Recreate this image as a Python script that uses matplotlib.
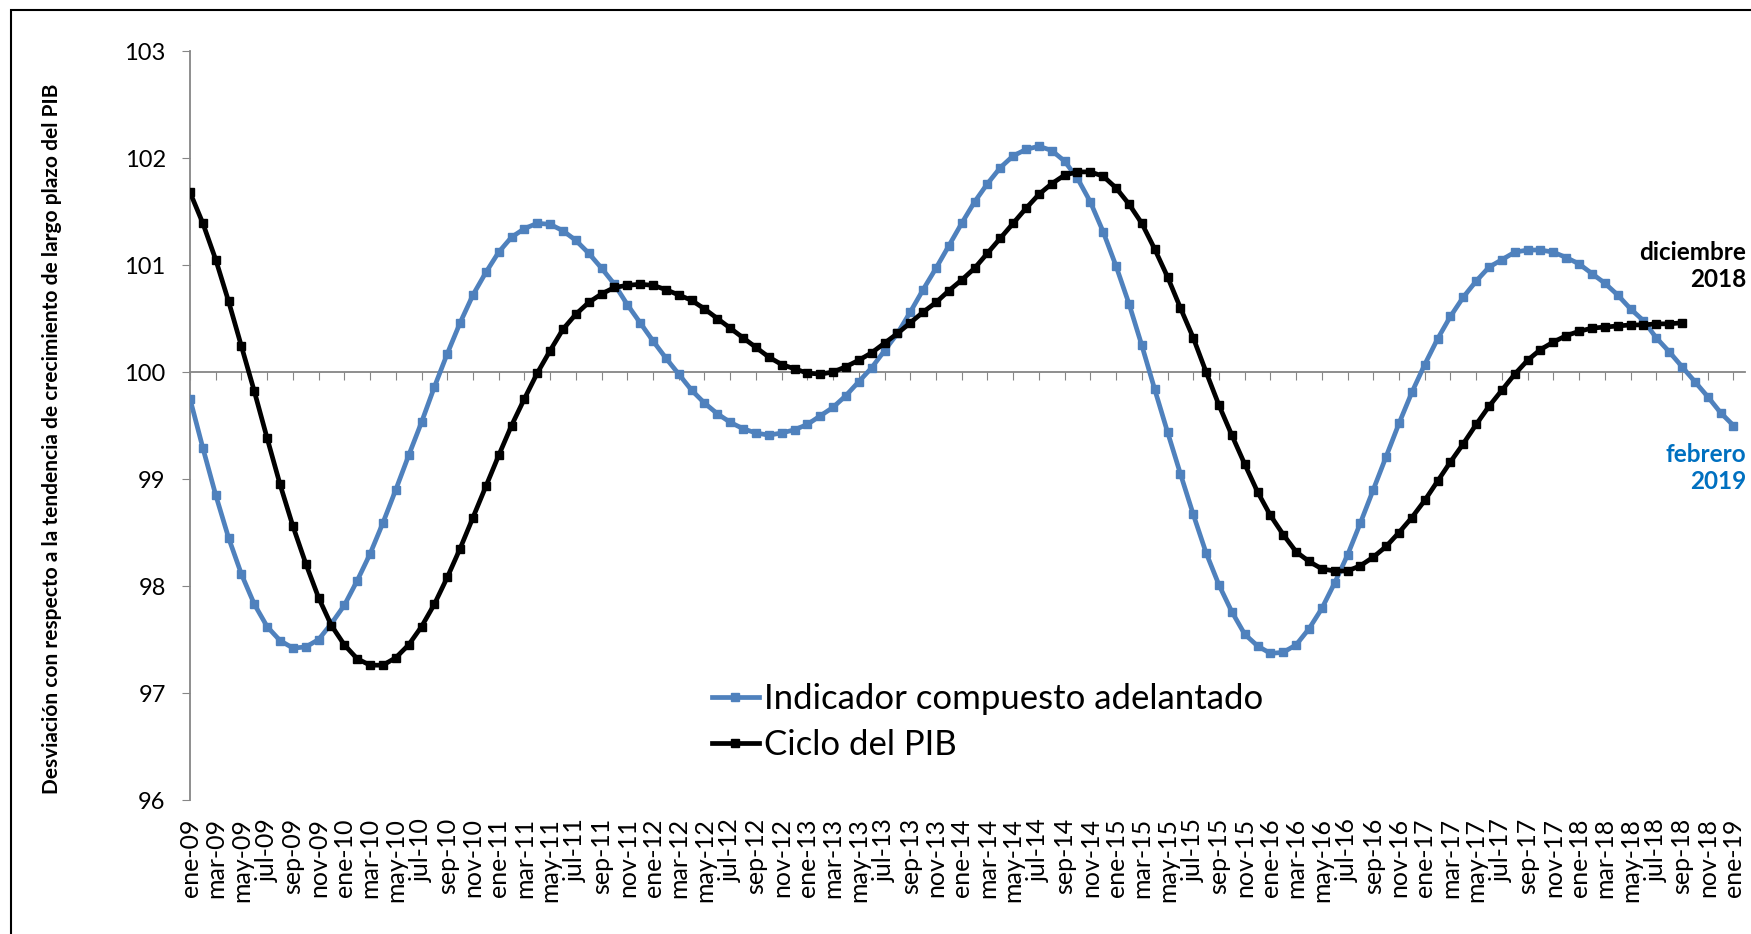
import matplotlib.pyplot as plt
from matplotlib.patches import Rectangle
from matplotlib import font_manager

# monthly series, ene-09 onwards
meses = ["ene", "feb", "mar", "abr", "may", "jun", "jul", "ago", "sep", "oct", "nov", "dic"]
fechas = [f"{m}-{a:02d}" for a in range(9, 20) for m in meses][:121]

indicador = [
    99.75, 99.29, 98.85, 98.45, 98.11, 97.83, 97.62, 97.49, 97.42, 97.43, 97.50, 97.65,
    97.82, 98.05, 98.30, 98.59, 98.90, 99.22, 99.53, 99.86, 100.17, 100.46, 100.72, 100.93,
    101.12, 101.26, 101.34, 101.39, 101.38, 101.32, 101.23, 101.11, 100.97, 100.82, 100.63, 100.46,
    100.29, 100.13, 99.98, 99.83, 99.71, 99.61, 99.53, 99.47, 99.43, 99.41, 99.43, 99.46,
    99.51, 99.59, 99.67, 99.78, 99.91, 100.04, 100.20, 100.36, 100.56, 100.77, 100.97, 101.18,
    101.39, 101.59, 101.76, 101.91, 102.02, 102.08, 102.11, 102.07, 101.97, 101.81, 101.59, 101.31,
    100.99, 100.64, 100.25, 99.84, 99.44, 99.05, 98.67, 98.31, 98.01, 97.76, 97.55, 97.44,
    97.37, 97.38, 97.45, 97.60, 97.79, 98.03, 98.29, 98.59, 98.90, 99.21, 99.52, 99.81,
    100.07, 100.31, 100.52, 100.70, 100.85, 100.98, 101.05, 101.12, 101.14, 101.14, 101.12, 101.07,
    101.01, 100.92, 100.83, 100.72, 100.59, 100.48, 100.32, 100.19, 100.05, 99.91, 99.77, 99.62,
    99.50,
]

ciclo_pib = [
    101.68, 101.39, 101.05, 100.66, 100.24, 99.82, 99.38, 98.95, 98.56, 98.21, 97.89, 97.63,
    97.45, 97.32, 97.26, 97.26, 97.33, 97.45, 97.62, 97.83, 98.08, 98.35, 98.64, 98.93,
    99.22, 99.50, 99.75, 99.99, 100.20, 100.40, 100.54, 100.65, 100.73, 100.79, 100.81, 100.82,
    100.81, 100.77, 100.72, 100.67, 100.59, 100.50, 100.41, 100.32, 100.23, 100.14, 100.07, 100.03,
    99.99, 99.98, 100.00, 100.05, 100.11, 100.18, 100.27, 100.36, 100.46, 100.56, 100.65, 100.76,
    100.86, 100.97, 101.11, 101.25, 101.39, 101.53, 101.66, 101.76, 101.84, 101.87, 101.87, 101.83,
    101.72, 101.57, 101.39, 101.15, 100.89, 100.60, 100.32, 100.00, 99.69, 99.41, 99.14, 98.88,
    98.66, 98.48, 98.32, 98.23, 98.16, 98.14, 98.14, 98.19, 98.27, 98.37, 98.50, 98.64,
    98.80, 98.98, 99.16, 99.33, 99.51, 99.68, 99.83, 99.98, 100.11, 100.21, 100.28, 100.34,
    100.38, 100.41, 100.42, 100.43, 100.44, 100.44, 100.45, 100.45, 100.46,
]

plt.rcParams["font.family"] = ["Lato", "DejaVu Sans"]
GRIS = "#868686"

# narrow bold face for the axis title, if there is one
nombres = {f.name for f in font_manager.fontManager.ttflist}
fam_titulo = ["Liberation Sans Narrow", "DejaVu Sans"] if "Liberation Sans Narrow" in nombres else ["Lato", "DejaVu Sans"]

fig = plt.figure(figsize=(17.51, 9.34), dpi=100)
fig.patches.append(Rectangle((11 / 1751, -0.1), 1.1, 1.1 - 10 / 934, transform=fig.transFigure,
                             fill=False, edgecolor="black", linewidth=1.5))

ax = fig.add_axes([190 / 1751, 134 / 934, 1555 / 1751, 749 / 934])
x_blue = range(len(indicador))
x_black = range(len(ciclo_pib))
ax.plot(x_blue, indicador, color="#4F81BD", lw=3.4, marker="s", ms=6,
        label="Indicador compuesto adelantado", zorder=3)
ax.plot(x_black, ciclo_pib, color="black", lw=3.4, marker="s", ms=6,
        label="Ciclo del PIB", zorder=4)

ax.set_xlim(0, 120.9)
ax.set_ylim(96, 103)
ax.set_yticks(range(96, 104))
ax.tick_params(axis="y", direction="out", length=6, color=GRIS, labelsize=17, pad=11.5)

for s in ["top", "right"]:
    ax.spines[s].set_visible(False)
ax.spines["left"].set_color(GRIS)
ax.spines["left"].set_linewidth(1.3)
# category axis crosses at 100
ax.spines["bottom"].set_position(("data", 100))
ax.spines["bottom"].set_color(GRIS)
ax.spines["bottom"].set_linewidth(1.3)
ax.spines["bottom"].set_zorder(1)
ticks = list(range(0, len(fechas), 2))
ax.set_xticks(ticks)
ax.tick_params(axis="x", direction="out", length=6, color=GRIS, labelbottom=False)

sec = ax.secondary_xaxis(0.0)
sec.set_xticks(ticks)
sec.set_xticklabels([fechas[i] for i in ticks], rotation=90, fontsize=18)
sec.tick_params(length=0, pad=13)
sec.spines["bottom"].set_visible(False)

titulo = fig.text(52 / 1751, 1 - 439 / 934,
                  "Desviación con respecto a la tendencia de crecimiento de largo plazo del PIB",
                  rotation=90, ha="center", va="center", fontsize=15, fontweight="bold", family=fam_titulo)
# fit the title to the ~711 px it takes in the original
r = fig.canvas.get_renderer()
alto = titulo.get_window_extent(r).height
titulo.set_fontsize(15 * 711 / alto)

ax.legend(loc="upper left", bbox_to_anchor=(712 / 1751, 1 - 683 / 934), bbox_transform=fig.transFigure,
          frameon=False, fontsize=25, handlelength=1.35, handletextpad=0.15, labelspacing=0.4,
          borderaxespad=0, borderpad=0)

fig.text(1746 / 1751, 1 - 266 / 934, "diciembre\n2018", ha="right", va="center", fontsize=17.5,
         fontweight="bold", color="black", linespacing=1.25, multialignment="right")
fig.text(1746 / 1751, 1 - 468 / 934, "febrero\n2019", ha="right", va="center", fontsize=17.5,
         fontweight="bold", color="#0070C0", linespacing=1.25, multialignment="right")

fig.savefig("out.png", dpi=100)
